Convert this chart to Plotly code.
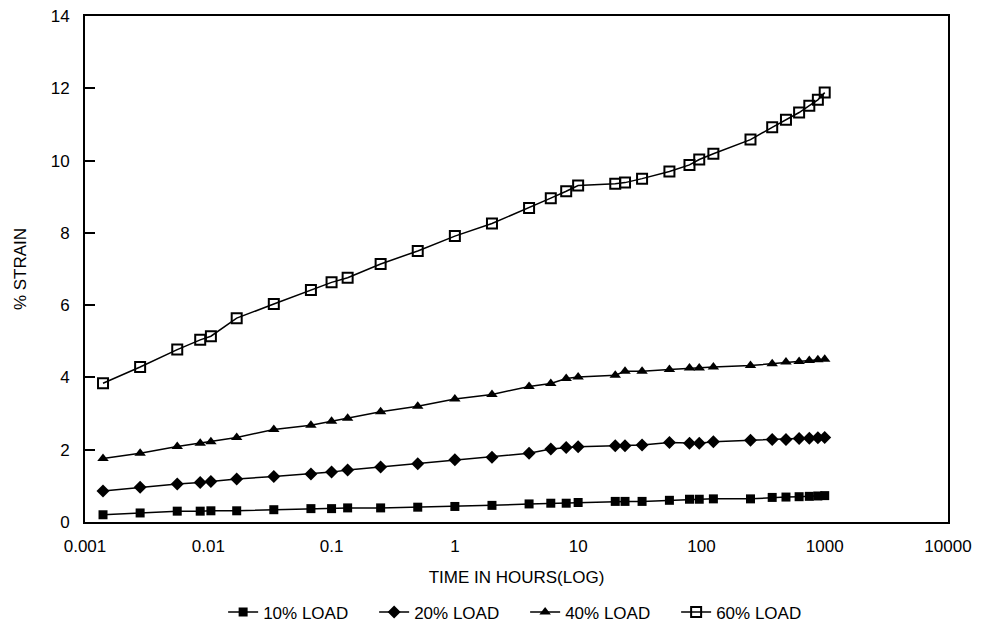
import plotly.graph_objects as go

time_h = [0.0014, 0.0028, 0.0056, 0.0086, 0.0105, 0.017, 0.034, 0.068, 0.1, 0.135,
          0.25, 0.5, 1, 2, 4, 6, 8, 10, 20, 24, 33, 55, 80, 96, 125, 250, 375,
          485, 620, 750, 880, 1000]

load10 = [0.20, 0.25, 0.30, 0.30, 0.31, 0.31, 0.34, 0.37, 0.37, 0.39, 0.39, 0.41,
          0.43, 0.46, 0.50, 0.52, 0.52, 0.54, 0.57, 0.57, 0.57, 0.60, 0.63, 0.63,
          0.64, 0.64, 0.68, 0.69, 0.70, 0.71, 0.72, 0.73]
load20 = [0.86, 0.96, 1.05, 1.09, 1.12, 1.19, 1.26, 1.33, 1.38, 1.44, 1.52, 1.61,
          1.72, 1.79, 1.90, 2.02, 2.06, 2.08, 2.11, 2.11, 2.13, 2.20, 2.18, 2.18,
          2.22, 2.26, 2.28, 2.28, 2.31, 2.32, 2.33, 2.34]
load40 = [1.76, 1.90, 2.09, 2.18, 2.22, 2.34, 2.56, 2.68, 2.79, 2.87, 3.05, 3.20,
          3.40, 3.53, 3.75, 3.83, 3.97, 4.01, 4.06, 4.17, 4.17, 4.22, 4.26, 4.26,
          4.29, 4.33, 4.38, 4.43, 4.44, 4.47, 4.49, 4.50]
load60 = [3.84, 4.29, 4.77, 5.04, 5.14, 5.64, 6.03, 6.42, 6.63, 6.76, 7.14, 7.50,
          7.91, 8.26, 8.69, 8.96, 9.15, 9.31, 9.36, 9.39, 9.50, 9.70, 9.88, 10.03,
          10.19, 10.58, 10.92, 11.13, 11.33, 11.52, 11.68, 11.88]

series_names = ["10% LOAD", "20% LOAD", "40% LOAD", "60% LOAD"]
x_ticks = [0.001, 0.01, 0.1, 1, 10, 100, 1000, 10000]
x_tick_text = ["0.001", "0.01", "0.1", "1", "10", "100", "1000", "10000"]

symbols = ["square", "diamond", "triangle-up", "square-open"]
sizes = [9, 10, 10, 10]

fig = go.Figure()
for name, vals, sym, sz in zip(series_names, [load10, load20, load40, load60], symbols, sizes):
    fig.add_trace(go.Scatter(
        x=time_h, y=vals, name=name, mode="lines+markers",
        line=dict(color="black", width=1.5),
        marker=dict(symbol=sym, size=sz, color="black",
                    line=dict(color="black", width=2 if sym == "square-open" else 0)),
    ))

fam = "Liberation Sans, Arial, sans-serif"
fs = 17
font = dict(family=fam, size=fs, color="black")

fig.update_layout(
    width=987, height=641,
    margin=dict(l=77, r=47, t=8, b=127, autoexpand=False),
    plot_bgcolor="white", paper_bgcolor="white",
    font=font,
    showlegend=True,
    legend=dict(orientation="h", x=0.51, xanchor="center", y=-0.143, yanchor="top",
                font=dict(family=fam, size=fs, color="black"),
                itemwidth=30, entrywidth=106, tracegroupgap=0),
    xaxis=dict(type="log", range=[-3, 4], tickvals=x_ticks, ticktext=x_tick_text,
               showgrid=False, zeroline=False, showline=True, linecolor="black",
               linewidth=2, mirror=True, ticks="", ticklabelstandoff=8,
               ticklabeloverflow="allow",
               tickfont=dict(family=fam, size=fs),
               title=dict(text="TIME IN HOURS(LOG)", standoff=16,
                          font=dict(family=fam, size=fs))),
    yaxis=dict(range=[0, 14], dtick=2, tick0=0, showgrid=False, zeroline=False,
               showline=True, linecolor="black", linewidth=2, mirror=True,
               ticks="inside", ticklen=10, tickwidth=1.5, tickcolor="black",
               ticklabelstandoff=10, ticklabeloverflow="allow",
               tickfont=dict(family=fam, size=fs),
               title=dict(text="% STRAIN", standoff=20, font=dict(family=fam, size=fs))),
)

fig.write_html("out.html")
